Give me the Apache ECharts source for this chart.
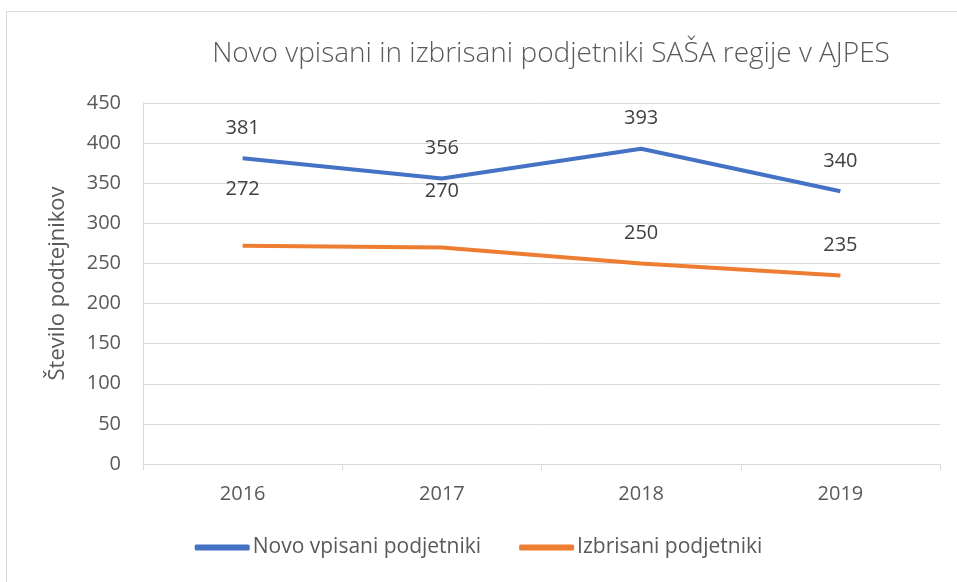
<!DOCTYPE html>
<html>
<head>
<meta charset="utf-8">
<script src="https://cdn.jsdelivr.net/npm/echarts@6/dist/echarts.min.js"></script>
<style>
  html, body { margin: 0; padding: 0; background: #fff; }
  #chart { width: 957px; height: 582px; }
</style>
</head>
<body>
<div id="chart"></div>
<script>
const years = ['2016', '2017', '2018', '2019']
const novoVpisani = [381, 356, 393, 340]
const izbrisani = [272, 270, 250, 235]
const yTicks = { min: 0, max: 450, interval: 50 }

const font = '"Open Sans", "DejaVu Sans", sans-serif'
const grey = '#595959'

let myChart = echarts.init(document.getElementById('chart'))
myChart.setOption({
  backgroundColor: '#fff',
  textStyle: { fontFamily: font },
  title: {
    text: 'Novo vpisani in izbrisani podjetniki SAŠA regije v AJPES',
    left: 546,
    top: 35,
    textAlign: 'center',
    textStyle: { fontSize: 28, fontWeight: 300, color: grey, fontFamily: font }
  },
  // frame around the chart, cut off on the right and bottom like the picture
  graphic: [{
    type: 'rect',
    shape: { x: 6.5, y: 11.5, width: 1000, height: 1000 },
    style: { fill: 'none', stroke: '#d9d9d9', lineWidth: 1 },
    silent: true
  }],
  legend: {
    bottom: 19,
    left: 'center',
    itemWidth: 55,
    itemHeight: 6,
    itemGap: 38,
    icon: 'roundRect',
    textStyle: { fontSize: 21, color: grey, fontFamily: font, padding: [0, 0, 0, -2] },
    data: ['Novo vpisani podjetniki', 'Izbrisani podjetniki']
  },
  grid: {
    left: 143,
    right: 17,
    top: 103,
    bottom: 118
  },
  xAxis: {
    type: 'category',
    boundaryGap: true,
    data: years,
    axisLine: { lineStyle: { color: '#d9d9d9', width: 1 } },
    axisTick: { show: true, length: 6, lineStyle: { color: '#d9d9d9' } },
    axisLabel: { color: grey, fontSize: 20, margin: 20 }
  },
  yAxis: {
    type: 'value',
    min: yTicks.min,
    max: yTicks.max,
    interval: yTicks.interval,
    name: 'Število podtejnikov',
    nameLocation: 'middle',
    nameGap: 74,
    nameTextStyle: { color: grey, fontSize: 22, fontFamily: font },
    axisLine: { show: true, lineStyle: { color: '#d9d9d9' } },
    axisTick: { show: false },
    axisLabel: { color: grey, fontSize: 20, margin: 22 },
    splitLine: { lineStyle: { color: '#d9d9d9', width: 1 } }
  },
  series: [{
    name: 'Novo vpisani podjetniki',
    type: 'line',
    data: novoVpisani,
    symbol: 'circle',
    symbolSize: 0,
    lineStyle: { color: '#4472c4', width: 4 },
    itemStyle: { color: '#4472c4' },
    label: {
      show: true,
      position: 'top',
      distance: 20,
      fontSize: 20,
      color: '#404040'
    }
  }, {
    name: 'Izbrisani podjetniki',
    type: 'line',
    data: izbrisani.map((v, i) => ({
      value: v,
      // first two labels were dragged higher in the original
      label: i < 2 ? { distance: 46 } : {}
    })),
    symbol: 'circle',
    symbolSize: 0,
    lineStyle: { color: '#ed7d31', width: 4 },
    itemStyle: { color: '#ed7d31' },
    label: {
      show: true,
      position: 'top',
      distance: 20,
      fontSize: 20,
      color: '#404040'
    }
  }]
})
</script>
</body>
</html>
